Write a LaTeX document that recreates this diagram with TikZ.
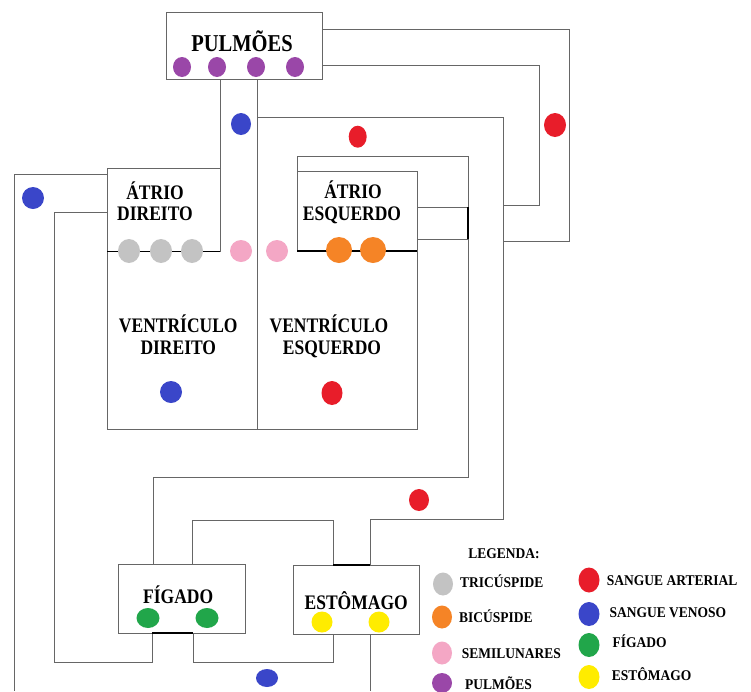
\documentclass[tikz,border=0pt]{standalone}
\usepackage{fontspec}
\setmainfont{Liberation Serif}
\usepackage{graphicx}
\usetikzlibrary{shapes.geometric}
\definecolor{cpur}{HTML}{9A47A8}
\definecolor{cblue}{HTML}{3A46C9}
\definecolor{cred}{HTML}{E81D2A}
\definecolor{cgray}{HTML}{C3C3C3}
\definecolor{cpink}{HTML}{F4A7C5}
\definecolor{corange}{HTML}{F58426}
\definecolor{cgreen}{HTML}{21A64A}
\definecolor{cyellow}{HTML}{FFEC00}
\definecolor{cline}{HTML}{666666}
\tikzset{
  pipe/.style={draw=cline, line width=0.9pt},
  dark/.style={draw=black, line width=1.2pt},
  dt/.style={ellipse, inner sep=0pt, draw=none},
  lbl/.style={anchor=base, inner sep=0pt, font=\fontsize{17.5}{20}\selectfont\bfseries},
  leg/.style={anchor=base west, inner sep=0pt, font=\fontsize{13.5}{16}\selectfont\bfseries},
}
\newcommand{\syy}[1]{\scalebox{1}[1.18]{#1}}
\newcommand{\slg}[1]{\scalebox{1}[1.1]{#1}}
\newcommand{\mydot}[6]{\node[dt, fill=#2, minimum width=#5pt, minimum height=#6pt] (#1) at (#3,#4) {};}
\begin{document}
\begin{tikzpicture}[x=1pt,y=-1pt]
\useasboundingbox (0,0) rectangle (751,691);
\fill[white] (0,0) rectangle (751,691);
% boxes
\coordinate (pulA) at (166,12); \coordinate (pulB) at (322,79);
\draw[pipe] (pulA) rectangle (pulB);
% pulmonary loops right
\coordinate (o1) at (322,29); \coordinate (o2) at (569,29); \coordinate (o3) at (569,241); \coordinate (o4) at (503,241);
\draw[pipe] (o1) -- (o2) -- (o3) -- (o4);
\coordinate (i1) at (322,65); \coordinate (i2) at (539,65); \coordinate (i3) at (539,205); \coordinate (i4) at (503,205);
\draw[pipe] (i1) -- (i2) -- (i3) -- (i4);
% aorta loop
\coordinate (a1) at (257,117); \coordinate (a2) at (503,117); \coordinate (a3) at (503,519); \coordinate (a4) at (370,519); \coordinate (a5) at (370,565);
\draw[pipe] (a1) -- (a2) -- (a3) -- (a4) -- (a5);
% central line x=257
\coordinate (c1) at (257,79); \coordinate (c2) at (257,429);
\draw[pipe] (c1) -- (c2);
% right atrium + ventricle
\coordinate (d0) at (220,79); \coordinate (d1) at (220,251.5); \coordinate (d2) at (220,168);
\coordinate (d3) at (107,168); \coordinate (d4) at (107,429); \coordinate (d5) at (107,251.5);
\draw[pipe] (d0) -- (d1);
\draw[pipe] (d2) -- (d3) -- (d4) -- (c2);
\draw[dark] (d5) -- (d1);
% left pipes
\coordinate (l1) at (107,174); \coordinate (l2) at (14,174); \coordinate (l3) at (14,691);
\draw[pipe] (l1) -- (l2) -- (l3);
\coordinate (m1) at (107,212); \coordinate (m2) at (54,212); \coordinate (m3) at (54,662); \coordinate (m4) at (152,662); \coordinate (m5) at (152,633);
\draw[pipe] (m1) -- (m2) -- (m3) -- (m4) -- (m5);
% left atrium + ventricle
\coordinate (e1) at (297,171); \coordinate (e2) at (417,171); \coordinate (e3) at (417,251); \coordinate (e4) at (297,251);
\draw[pipe] (e4) -- (e1) -- (e2) -- (e3);
\draw[dark] (e4) -- (e3);
\coordinate (v1) at (417,429);
\draw[pipe] (e3) -- (v1) -- (c2);
% inner loop to liver
\coordinate (n1) at (297,156); \coordinate (n2) at (468,156); \coordinate (n3) at (468,477); \coordinate (n4) at (153,477); \coordinate (n5) at (153,564);
\draw[pipe] (e1) -- (n1) -- (n2) -- (n3) -- (n4) -- (n5);
% pipe from left atrium
\coordinate (p1) at (417,207); \coordinate (p2) at (468,207); \coordinate (p3) at (417,239); \coordinate (p4) at (468,239);
\draw[pipe] (p1) -- (p2); \draw[pipe] (p3) -- (p4);
\draw[dark] (p2) -- (p4);
% liver
\coordinate (f1) at (118,564); \coordinate (f2) at (245,633);
\draw[pipe] (f1) rectangle (f2);
\coordinate (f3) at (152,633); \coordinate (f4) at (193,633);
\draw[dark] (f3) -- (f4);
\coordinate (g1) at (192,564); \coordinate (g2) at (192,520); \coordinate (g3) at (333,520); \coordinate (g4) at (333,565);
\draw[pipe] (g1) -- (g2) -- (g3) -- (g4);
\coordinate (h1) at (193,662); \coordinate (h2) at (333,662); \coordinate (h3) at (333,634);
\draw[pipe] (f4) -- (h1) -- (h2) -- (h3);
% stomach
\coordinate (s1) at (293,565); \coordinate (s2) at (419,634);
\draw[pipe] (s1) rectangle (s2);
\draw[dark] (g4) -- (a5);
\coordinate (s3) at (370,634); \coordinate (s4) at (370,691);
\draw[pipe] (s3) -- (s4);
% labels
\node[anchor=base, inner sep=0pt, font=\fontsize{20.5}{24}\selectfont\bfseries] (tpul) at (242,51.7) {\syy{PULMÕES}};
\node[lbl] (tad1) at (155,199.3) {\syy{ÁTRIO}};
\node[lbl] (tad2) at (155,220.7) {\syy{DIREITO}};
\node[lbl] (tvd1) at (178.3,332.7) {\syy{VENTRÍCULO}};
\node[lbl] (tvd2) at (178.3,354) {\syy{DIREITO}};
\node[lbl] (tae1) at (353,198.3) {\syy{ÁTRIO}};
\node[lbl] (tae2) at (352,220) {\syy{ESQUERDO}};
\node[lbl] (tve1) at (329,332.7) {\syy{VENTRÍCULO}};
\node[lbl] (tve2) at (332,354) {\syy{ESQUERDO}};
\node[lbl] (tfig) at (178.2,603.3) {\syy{FÍGADO}};
\node[lbl] (test) at (356.2,609.3) {\syy{ESTÔMAGO}};
% dots
\mydot{pu1}{cpur}{182}{67}{18}{20}
\mydot{pu2}{cpur}{217}{67}{18}{20}
\mydot{pu3}{cpur}{256}{67}{18}{20}
\mydot{pu4}{cpur}{295}{67}{18}{20}
\mydot{bl1}{cblue}{241}{124}{20}{22}
\mydot{rd1}{cred}{357.7}{136.7}{18}{22}
\mydot{rd2}{cred}{555}{125}{22}{24}
\mydot{bl2}{cblue}{33}{198}{22}{22}
\mydot{tr1}{cgray}{129}{251}{22}{24}
\mydot{tr2}{cgray}{161}{251}{22}{24}
\mydot{tr3}{cgray}{192}{251}{22}{24}
\mydot{sm1}{cpink}{241}{251}{22}{22}
\mydot{sm2}{cpink}{277}{251}{22}{22}
\mydot{bc1}{corange}{339}{250}{26}{26}
\mydot{bc2}{corange}{373}{250}{26}{26}
\mydot{bl3}{cblue}{171}{392}{22}{22}
\mydot{rd3}{cred}{332}{393}{21}{24}
\mydot{rd4}{cred}{419}{500}{20}{22}
\mydot{gr1}{cgreen}{148}{618}{23}{20}
\mydot{gr2}{cgreen}{207}{618}{23}{20}
\mydot{ye1}{cyellow}{322}{622}{21}{21}
\mydot{ye2}{cyellow}{379}{622}{21}{21}
\mydot{bl4}{cblue}{267}{678}{22}{18}
% legend
\node[anchor=base, inner sep=0pt, font=\fontsize{13.5}{16}\selectfont\bfseries] (tleg) at (504,558.3) {\slg{LEGENDA:}};
\mydot{lg1}{cgray}{443}{584}{20}{23}
\mydot{lg2}{corange}{442}{617}{20}{23}
\mydot{lg3}{cpink}{442}{653}{20}{23}
\mydot{lg4}{cpur}{442}{683}{20}{20}
\mydot{lg5}{cred}{589}{580}{21}{25}
\mydot{lg6}{cblue}{589}{614}{21}{24}
\mydot{lg7}{cgreen}{589}{645}{21}{24}
\mydot{lg8}{cyellow}{589}{677}{21}{24}
\node[leg] (tl1) at (460,587.3) {\slg{TRICÚSPIDE}};
\node[leg] (tl2) at (459,622.7) {\slg{BICÚSPIDE}};
\node[leg] (tl3) at (461.7,658.3) {\slg{SEMILUNARES}};
\node[leg] (tl4) at (465,689.3) {\slg{PULMÕES}};
\node[leg] (tl5) at (606.7,585) {\slg{SANGUE ARTERIAL}};
\node[leg] (tl6) at (609.3,617.3) {\slg{SANGUE VENOSO}};
\node[leg] (tl7) at (612.3,647.3) {\slg{FÍGADO}};
\node[leg] (tl8) at (611.7,680.7) {\slg{ESTÔMAGO}};
\end{tikzpicture}
\end{document}
